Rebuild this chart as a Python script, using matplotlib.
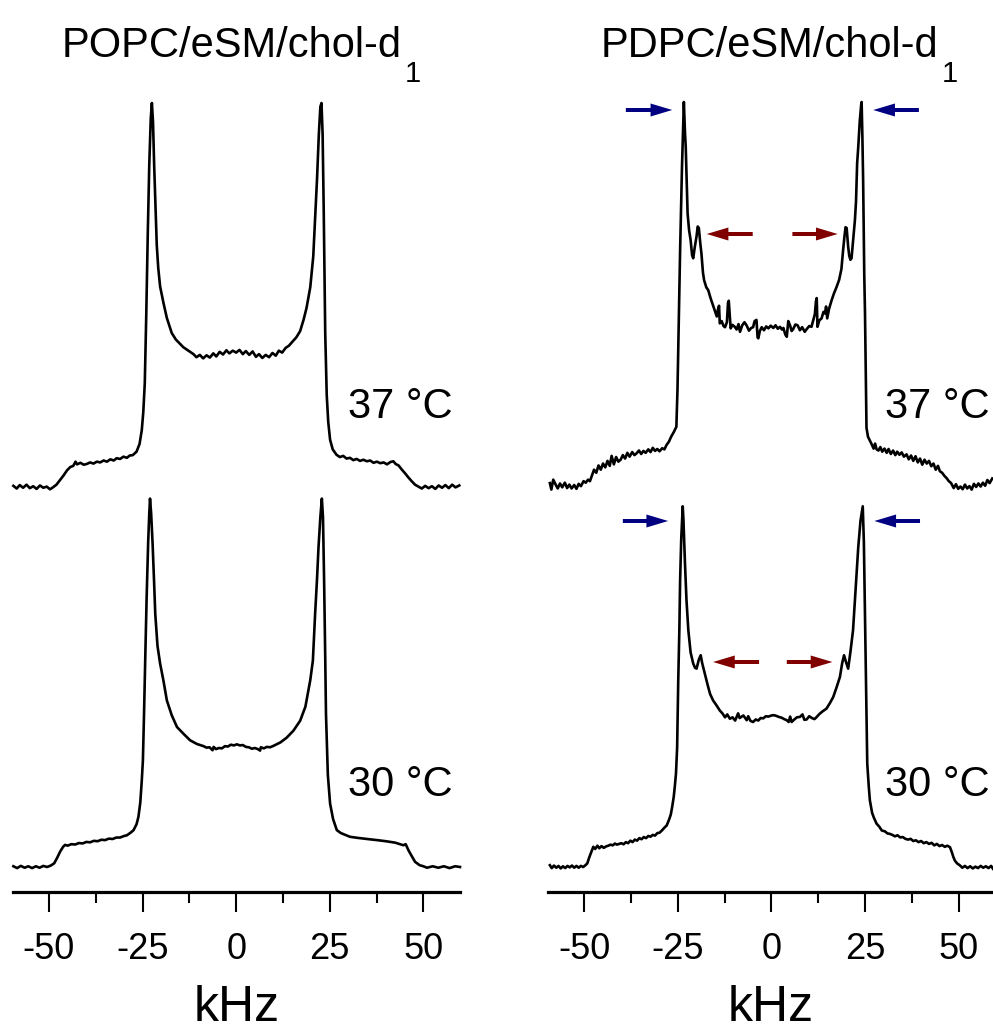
import matplotlib
matplotlib.use("Agg")
import matplotlib.pyplot as plt
from matplotlib.ticker import FixedLocator

plt.rcParams['font.family'] = ['Liberation Sans', 'DejaVu Sans']

# 2H NMR spectra, frequency in kHz, intensity normalised to the horn height (=100)
popc37_khz = [-59.5, -58.6, -57.8, -56.9, -56.0, -55.1, -54.2, -53.3, -52.4, -51.5, -50.6, -49.7,
              -48.8, -48.0, -47.2, -46.1, -45.2, -44.3, -43.5, -42.9, -42.5, -41.6, -40.7, -39.9,
              -39.0, -38.1, -37.2, -36.3, -35.4, -34.5, -33.6, -32.7, -31.9, -31.0, -30.1, -29.2,
              -28.4, -27.6, -26.6, -25.8, -25.2, -24.8, -24.4, -24.0, -23.6, -23.2, -22.8, -22.5,
              -22.2, -21.9, -21.5, -21.2, -20.8, -20.3, -19.4, -18.5, -17.2, -16.1, -15.0, -14.1,
              -13.2, -12.3, -11.4, -10.6, -9.7, -8.8, -7.9, -7.0, -6.1, -5.3, -4.4, -3.5,
              -2.6, -1.8, -0.9, 0.0, 0.9, 1.8, 2.6, 3.5, 4.4, 5.3, 6.1, 7.0,
              7.9, 8.8, 9.7, 10.6, 11.4, 12.3, 13.2, 14.1, 15.0, 16.1, 17.1, 18.0,
              18.8, 19.8, 20.6, 21.1, 21.6, 22.1, 22.5, 22.8, 23.1, 23.4, 23.8, 24.2,
              24.6, 25.1, 25.8, 26.8, 27.7, 28.6, 29.5, 30.4, 31.3, 32.2, 33.1, 34.0,
              34.9, 35.8, 36.7, 37.6, 38.5, 39.4, 40.3, 41.2, 42.0, 42.6, 43.4, 44.2,
              45.1, 46.0, 46.9, 47.8, 48.7, 49.6, 50.5, 51.4, 52.3, 53.2, 54.1, 55.0,
              55.9, 56.8, 57.7, 58.6, 59.6]
popc37_int = [0.3, -0.4, 0.5, -0.2, 0.6, -0.3, 0.2, -0.5, 0.4, -0.2, 0.1, -0.6,
              0.0, 0.6, 1.6, 3.0, 4.3, 5.2, 5.5, 6.6, 5.9, 6.3, 5.8, 6.0,
              6.4, 6.1, 6.6, 6.4, 6.9, 6.6, 7.2, 6.9, 7.5, 7.3, 7.9, 7.6,
              8.2, 8.3, 9.2, 11.2, 14.8, 19.5, 27.0, 45.0, 66.0, 84.0, 96.0, 100.0,
              95.0, 84.0, 72.0, 63.0, 57.0, 52.2, 47.9, 44.0, 40.1, 38.4, 37.3, 36.4,
              35.8, 35.2, 34.6, 33.8, 34.4, 33.5, 34.3, 33.7, 34.8, 34.0, 35.2, 34.5,
              35.6, 34.8, 35.5, 35.0, 35.7, 34.6, 35.4, 34.4, 35.3, 33.9, 34.6, 33.6,
              34.4, 33.8, 34.9, 34.2, 35.5, 35.0, 36.2, 36.8, 37.8, 39.0, 40.6, 43.5,
              46.6, 52.0, 60.0, 70.0, 80.0, 92.0, 99.0, 100.0, 92.0, 72.0, 40.0, 24.0,
              17.0, 12.3, 9.8, 8.4, 7.8, 8.1, 7.4, 7.6, 7.0, 7.3, 6.8, 7.1,
              6.7, 6.9, 6.3, 6.6, 6.2, 6.4, 5.9, 6.5, 6.7, 6.0, 5.6, 4.6,
              3.6, 2.5, 1.5, 0.6, 0.1, -0.4, 0.3, -0.3, 0.2, -0.5, 0.4, -0.2,
              0.5, -0.3, 0.6, -0.1, 0.4]

popc30_khz = [-59.5, -58.5, -57.5, -56.5, -55.5, -54.5, -53.5, -52.5, -51.5, -50.5, -49.5, -48.6,
              -47.8, -47.0, -46.2, -45.7, -45.0, -44.0, -43.0, -42.0, -41.0, -40.0, -39.0, -38.0,
              -37.0, -36.0, -35.0, -34.0, -33.0, -32.0, -31.0, -30.0, -29.2, -28.2, -27.4, -26.6,
              -26.1, -25.6, -25.2, -24.9, -24.6, -24.2, -23.9, -23.5, -23.2, -23.0, -22.7, -22.3,
              -21.9, -21.6, -21.0, -20.3, -19.4, -18.5, -17.2, -15.8, -14.0, -12.3, -10.5, -9.6,
              -8.7, -7.9, -7.1, -6.3, -6.0, -5.4, -4.6, -3.8, -3.0, -2.2, -1.4, -0.6,
              0.2, 1.0, 1.8, 2.6, 3.4, 4.2, 5.0, 5.8, 6.4, 6.6, 7.4, 8.2,
              9.1, 10.0, 11.8, 13.5, 15.3, 17.1, 18.5, 19.8, 20.5, 21.1, 21.6, 22.0,
              22.5, 22.9, 23.2, 23.5, 23.8, 24.0, 24.5, 25.1, 25.9, 26.9, 28.0, 30.4,
              32.5, 35.0, 37.6, 40.0, 42.5, 44.7, 45.3, 46.0, 47.0, 47.8, 49.0, 50.0,
              51.0, 52.5, 54.0, 55.5, 57.0, 58.5, 59.8]
popc30_int = [0.2, -0.3, 0.3, -0.2, 0.2, -0.3, 0.2, -0.2, 0.3, 0.0, 0.4, 1.0,
              2.5, 4.2, 5.5, 6.0, 5.8, 6.2, 6.1, 6.5, 6.4, 6.8, 6.7, 7.1,
              7.0, 7.4, 7.3, 7.7, 7.6, 8.0, 8.0, 8.4, 8.6, 9.3, 10.0, 11.6,
              13.6, 17.5, 23.5, 29.0, 41.5, 60.0, 73.3, 88.0, 96.0, 100.0, 96.0, 87.5,
              77.0, 68.7, 60.0, 55.2, 50.5, 45.2, 41.2, 38.0, 36.1, 34.4, 33.4, 33.1,
              32.8, 32.4, 32.5, 31.7, 32.6, 32.0, 32.3, 32.2, 32.8, 32.7, 33.2, 33.0,
              33.3, 33.0, 33.1, 32.6, 32.5, 32.1, 32.3, 32.0, 31.6, 32.5, 32.2, 32.6,
              32.5, 32.9, 33.8, 35.1, 37.0, 39.7, 43.5, 50.7, 56.0, 68.7, 78.0, 86.7,
              95.0, 100.0, 95.0, 77.8, 57.0, 41.6, 25.0, 17.2, 13.0, 10.0, 9.2, 8.2,
              7.9, 7.6, 7.3, 7.0, 6.6, 5.9, 6.2, 4.6, 2.8, 1.4, 0.5, 0.2,
              -0.2, 0.2, -0.2, 0.2, -0.3, 0.2, 0.0]

pdpc37_khz = [-59.2, -58.8, -58.3, -57.7, -57.1, -56.5, -55.9, -55.2, -54.6, -54.0, -53.4, -52.7,
              -52.1, -51.5, -50.9, -50.2, -49.6, -49.0, -48.5, -48.0, -47.4, -46.8, -46.2, -45.6,
              -45.0, -44.4, -43.8, -43.2, -42.7, -42.1, -41.5, -40.9, -40.3, -39.7, -39.1, -38.5,
              -37.9, -37.2, -36.6, -36.0, -35.4, -34.8, -34.2, -33.6, -32.9, -32.3, -31.7, -31.1,
              -30.5, -29.9, -29.2, -28.6, -28.0, -27.4, -26.8, -26.1, -25.4, -25.1, -24.9, -24.6,
              -24.4, -24.1, -23.9, -23.6, -23.4, -23.1, -22.9, -22.6, -22.4, -22.0, -21.6, -21.2,
              -20.9, -20.5, -20.0, -19.7, -19.4, -19.0, -18.7, -18.3, -18.0, -17.4, -16.9, -16.2,
              -15.5, -15.0, -14.6, -14.3, -14.0, -13.8, -13.3, -12.8, -12.4, -11.9, -11.6, -11.4,
              -11.1, -10.9, -10.4, -9.8, -9.3, -8.8, -8.4, -7.8, -7.2, -6.6, -6.0, -5.4,
              -4.9, -4.5, -4.0, -3.7, -3.5, -3.1, -2.6, -2.0, -1.4, -0.8, -0.2, 0.5,
              1.1, 1.7, 2.3, 2.8, 3.2, 3.7, 4.1, 4.5, 5.0, 5.4, 5.8, 6.4,
              7.0, 7.6, 8.2, 8.9, 9.5, 10.1, 10.7, 11.2, 11.6, 11.9, 12.1, 12.3,
              12.8, 13.4, 13.9, 14.3, 14.6, 14.9, 15.4, 16.1, 16.7, 17.4, 18.1, 18.7,
              19.1, 19.5, 19.8, 20.1, 20.5, 20.8, 21.1, 21.4, 21.8, 22.3, 22.6, 22.9,
              23.2, 23.6, 24.0, 24.1, 24.3, 24.5, 24.8, 25.0, 25.2, 25.4, 25.8, 26.3,
              26.8, 27.3, 27.7, 28.1, 28.6, 29.1, 29.6, 30.2, 30.8, 31.3, 31.9, 32.5,
              33.1, 33.6, 34.2, 34.8, 35.4, 36.1, 36.7, 37.3, 37.9, 38.5, 39.1, 39.7,
              40.3, 40.9, 41.5, 42.1, 42.7, 43.3, 43.9, 44.5, 45.0, 45.6, 46.2, 46.8,
              47.4, 48.0, 48.7, 49.3, 49.9, 50.5, 51.1, 51.7, 52.3, 52.9, 53.5, 54.1,
              54.7, 55.3, 55.9, 56.5, 57.1, 57.7, 58.3, 59.0]
pdpc37_int = [0.5, -1.2, 1.4, 0.2, -0.9, 0.4, -0.6, 0.6, -0.8, 0.1, -0.9, 0.0,
              -1.0, 0.3, -0.3, 1.0, 0.6, 1.4, 1.0, 2.4, 4.0, 3.2, 5.1, 4.0,
              5.6, 4.6, 6.3, 5.0, 7.6, 5.4, 7.3, 6.1, 6.6, 7.8, 6.9, 8.4,
              7.4, 8.6, 7.8, 8.3, 9.0, 8.1, 8.9, 8.4, 9.3, 8.6, 9.7, 8.9,
              9.4, 8.8, 9.6, 9.3, 10.5, 11.3, 12.6, 13.8, 15.2, 25.0, 35.2, 50.0,
              61.3, 74.0, 83.0, 93.0, 100.0, 92.0, 88.3, 78.0, 70.9, 66.5, 64.0, 60.0,
              59.2, 62.0, 65.0, 67.5, 67.1, 63.0, 60.4, 55.5, 53.5, 51.6, 50.9, 48.6,
              46.6, 45.1, 44.0, 45.8, 46.8, 42.2, 42.8, 41.5, 41.2, 42.5, 47.6, 48.1,
              44.0, 40.9, 41.8, 41.3, 40.6, 42.0, 40.0, 41.7, 42.5, 41.6, 40.3, 41.0,
              41.2, 42.8, 43.1, 38.5, 38.3, 40.2, 41.2, 40.4, 41.4, 40.9, 41.6, 41.0,
              41.7, 40.8, 41.3, 40.6, 41.0, 39.3, 38.7, 42.8, 41.6, 40.2, 40.7, 41.9,
              41.7, 40.4, 41.2, 40.0, 40.8, 41.5, 41.3, 43.1, 44.6, 48.0, 48.8, 41.3,
              43.0, 43.5, 45.2, 44.8, 46.6, 43.5, 46.0, 48.3, 50.0, 51.7, 53.6, 56.4,
              60.8, 64.8, 67.3, 67.1, 62.2, 59.8, 58.8, 59.2, 63.5, 69.1, 74.0, 84.0,
              88.3, 95.0, 99.5, 100.0, 91.0, 79.6, 55.0, 44.8, 30.0, 14.9, 12.6, 11.6,
              10.6, 9.5, 10.8, 9.3, 9.0, 9.9, 8.7, 9.5, 8.4, 9.4, 8.1, 9.0,
              7.8, 8.7, 7.9, 8.5, 7.4, 8.0, 6.7, 7.7, 6.3, 7.5, 5.9, 6.9,
              5.3, 6.6, 5.6, 6.3, 4.9, 5.6, 4.0, 5.0, 3.6, 3.2, 2.4, 1.8,
              1.0, 0.5, -0.8, 0.2, -1.0, -0.4, -1.1, 0.1, -0.9, -0.3, -1.2, 0.3,
              -0.5, 0.4, -0.4, 0.6, -0.2, 1.3, 0.5, 1.7]

pdpc30_khz = [-59.2, -58.7, -58.1, -57.5, -56.9, -56.3, -55.7, -55.1, -54.5, -53.9, -53.3, -52.7,
              -52.1, -51.5, -50.9, -50.3, -49.7, -49.2, -48.7, -48.2, -47.6, -47.1, -46.5, -46.0,
              -45.4, -44.8, -44.2, -43.6, -43.0, -42.4, -41.8, -41.3, -40.7, -40.1, -39.5, -38.9,
              -38.3, -37.7, -37.1, -36.5, -35.9, -35.3, -34.7, -34.1, -33.5, -32.9, -32.3, -31.7,
              -31.1, -30.5, -29.9, -29.2, -28.6, -28.0, -27.4, -26.9, -26.5, -26.1, -25.8, -25.5,
              -25.2, -24.9, -24.6, -24.4, -24.1, -23.8, -23.7, -23.5, -23.1, -22.7, -22.2, -21.6,
              -20.9, -20.4, -20.0, -19.4, -18.9, -18.5, -17.8, -17.0, -16.4, -15.6, -14.8, -13.8,
              -13.1, -12.4, -11.8, -11.1, -10.4, -9.7, -8.9, -8.5, -7.5, -6.6, -6.2, -5.6,
              -4.9, -4.2, -3.5, -2.9, -2.2, -1.5, -0.8, 0.0, 0.6, 1.3, 2.0, 2.7,
              3.4, 4.1, 4.6, 5.0, 5.4, 6.0, 6.8, 7.6, 8.3, 8.8, 9.4, 10.1,
              10.8, 11.5, 12.1, 12.8, 13.6, 14.7, 15.6, 16.5, 17.4, 18.3, 18.9, 19.4,
              19.9, 20.5, 21.1, 21.8, 22.5, 23.2, 23.8, 24.4, 24.7, 25.0, 25.3, 25.6,
              26.0, 26.3, 26.9, 27.4, 28.1, 28.8, 29.5, 30.3, 31.0, 31.6, 32.3, 33.0,
              33.7, 34.4, 35.1, 35.8, 36.5, 37.2, 37.9, 38.6, 39.3, 40.0, 40.7, 41.4,
              42.1, 42.8, 43.5, 44.2, 44.9, 45.6, 46.3, 47.0, 47.7, 48.2, 48.6, 49.0,
              49.6, 50.3, 51.0, 51.7, 52.4, 53.1, 53.8, 54.5, 55.2, 55.9, 56.6, 57.3,
              58.0, 58.7, 59.2]
pdpc30_int = [0.5, -0.3, 0.4, -0.2, 0.3, -0.4, 0.2, -0.3, 0.3, -0.1, 0.4, -0.2,
              0.3, -0.2, 0.3, 0.0, 0.5, 1.0, 2.6, 4.0, 5.6, 5.0, 5.9, 5.2,
              5.8, 5.3, 5.7, 5.9, 6.2, 6.0, 6.5, 6.2, 6.4, 6.6, 6.3, 6.9,
              6.6, 7.3, 6.9, 7.6, 7.3, 8.0, 7.7, 8.3, 8.0, 8.6, 8.4, 8.9,
              8.7, 9.4, 9.5, 10.2, 10.9, 11.5, 13.0, 14.5, 16.8, 19.5, 22.5, 26.0,
              33.0, 51.7, 66.0, 79.5, 91.0, 98.0, 100.0, 96.0, 84.1, 74.0, 65.6, 59.5,
              56.4, 55.2, 55.0, 57.5, 58.7, 56.5, 53.6, 50.3, 48.0, 46.2, 45.0, 43.4,
              42.6, 41.5, 42.3, 41.1, 41.5, 40.6, 42.6, 41.3, 42.0, 40.7, 41.8, 40.5,
              40.2, 40.9, 40.6, 41.3, 41.2, 41.8, 41.7, 42.0, 42.1, 41.9, 41.6, 41.4,
              41.0, 40.7, 40.2, 41.7, 40.2, 40.8, 41.5, 41.6, 42.3, 40.8, 40.9, 41.8,
              41.3, 41.0, 41.6, 42.4, 43.1, 43.9, 45.4, 47.1, 49.8, 52.7, 56.5, 58.7,
              56.9, 55.0, 59.6, 65.6, 77.0, 88.7, 96.0, 100.0, 90.0, 70.2, 50.0, 28.7,
              22.4, 18.5, 15.0, 13.6, 12.0, 11.2, 10.1, 9.9, 9.3, 9.2, 8.9, 8.5,
              8.8, 8.2, 8.3, 7.8, 7.6, 7.8, 7.2, 7.4, 6.9, 7.2, 6.6, 6.9,
              6.4, 6.7, 6.0, 6.4, 5.8, 6.1, 5.6, 5.9, 5.5, 4.1, 2.8, 1.8,
              1.0, 0.5, -0.2, 0.3, -0.3, 0.2, -0.4, 0.1, -0.3, 0.3, -0.2, 0.2,
              -0.3, 0.3, -0.5]

titles = ['POPC/eSM/chol-d', 'PDPC/eSM/chol-d']
temps = ['37 °C', '30 °C']
major_ticks = [-50, -25, 0, 25, 50]
minor_ticks = [-37.5, -12.5, 12.5, 37.5]

# blue arrows mark the outer horns, red ones the inner horns (tail, head in kHz)
blue_arrows_37 = [(-38.9, -26.5), (39.4, 27.2)]
red_arrows_37 = [(-5.0, -17.3), (5.6, 17.7)]
blue_arrows_30 = [(-39.7, -27.6), (39.7, 27.5)]
red_arrows_30 = [(-3.3, -15.6), (4.1, 16.3)]

W, H = 993, 1036
fig = plt.figure(figsize=(W / 100, H / 100), dpi=100)

def px_axes(x0, x1, y_top, y_bot):
    return fig.add_axes([x0 / W, 1 - y_bot / H, (x1 - x0) / W, (y_bot - y_top) / H])

ax_l = px_axes(13, 460, 92, 892)
ax_r = px_axes(548, 993, 92, 892)
ax_l.set_xlim(-59.6, 59.8)
ax_r.set_xlim(-59.7, 59.2)

# (axes, spectrum, baseline, scale)
traces = [
    (ax_l, popc37_khz, popc37_int, 405, 3.84),
    (ax_l, popc30_khz, popc30_int, 25, 3.684),
    (ax_r, pdpc37_khz, pdpc37_int, 407, 3.83),
    (ax_r, pdpc30_khz, pdpc30_int, 25, 3.607),
]
for ax, xs, ys, base, scale in traces:
    ax.plot(xs, [base + scale * v for v in ys], color='black', lw=1.9,
            solid_joinstyle='round', clip_on=False)

for ax in (ax_l, ax_r):
    ax.set_ylim(0, 800)
    for side in ('left', 'right', 'top'):
        ax.spines[side].set_visible(False)
    ax.spines['bottom'].set_linewidth(2.3)
    ax.set_yticks([])
    ax.xaxis.set_major_locator(FixedLocator(major_ticks))
    ax.xaxis.set_minor_locator(FixedLocator(minor_ticks))
    ax.set_xticklabels(['-50', '-25', '0', '25', '50'])
    ax.tick_params(axis='x', which='major', direction='out', length=14.5, width=1.5,
                   labelsize=26, pad=14.5)
    ax.tick_params(axis='x', which='minor', direction='out', length=8, width=1.5)
    ax.set_xlabel('kHz', fontsize=36, labelpad=13)

ax_l.text(57.7, 485, temps[0], ha='right', va='center', fontsize=30)
ax_l.text(57.7, 107, temps[1], ha='right', va='center', fontsize=30)
ax_r.text(58.3, 485, temps[0], ha='right', va='center', fontsize=30)
ax_r.text(58.3, 107, temps[1], ha='right', va='center', fontsize=30)

def draw_arrows(ax, pairs, y, color):
    for tail, head in pairs:
        ax.arrow(tail, y, head - tail, 0, width=4, head_width=13, head_length=5.8,
                 length_includes_head=True, color=color, lw=0)

draw_arrows(ax_r, blue_arrows_37, 782, '#000080')
draw_arrows(ax_r, red_arrows_37, 658, '#800000')
draw_arrows(ax_r, blue_arrows_30, 371, '#000080')
draw_arrows(ax_r, red_arrows_30, 230, '#800000')

# titles, with the subscript 1 placed right after the text
renderer = fig.canvas.get_renderer()
for title, x_start in zip(titles, (62, 601)):
    t = fig.text(x_start / W, 1 - 56.7 / H, title, ha='left', va='baseline', fontsize=30)
    x_end = t.get_window_extent(renderer).x1
    fig.text((x_end + 3) / W, 1 - 81.7 / H, '1', ha='left', va='baseline', fontsize=21)

fig.savefig('out.png', dpi=100)
